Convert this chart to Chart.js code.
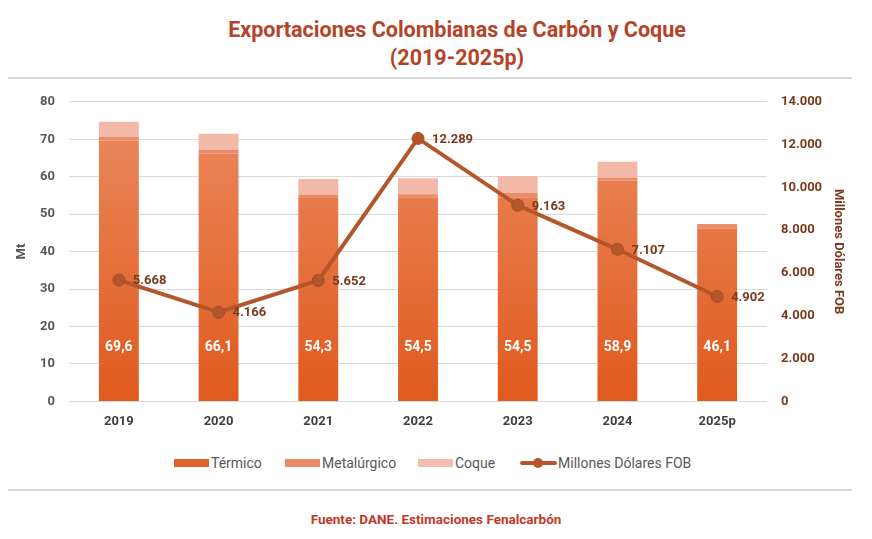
<!DOCTYPE html>
<html>
<head>
<meta charset="utf-8">
<script src="https://cdn.jsdelivr.net/npm/chart.js@4.4.1/dist/chart.umd.min.js"></script>
<style>
  html, body { margin: 0; padding: 0; background: #fff; }
  #wrap { position: relative; width: 872px; height: 539px; overflow: hidden; font-family: Roboto, "Liberation Sans", sans-serif; }
  #title { position: absolute; left: 21px; width: 872px; top: 16px; text-align: center; color: #B5432A; font-weight: 700; font-size: 21.5px; line-height: 28px; }
  .hr { position: absolute; left: 8px; width: 844px; height: 2px; background: #d9d9d9; }
  #cv { position: absolute; left: 0; top: 80px; }
  #legend { position: absolute; top: 454px; left: 0; width: 872px; height: 18px; font-size: 14px; color: #595959; }
  .li { position: absolute; top: 0; line-height: 18px; white-space: nowrap; }
  .sw { display: inline-block; width: 35px; height: 8px; vertical-align: middle; margin-right: 2px; position: relative; top: -1px; }
  #foot { position: absolute; left: 0; width: 872px; top: 511px; text-align: center; color: #C0392B; font-weight: 700; font-size: 13.5px; }
</style>
</head>
<body>
<div id="wrap">
  <div id="title">Exportaciones Colombianas de Carbón y Coque<br>(2019-2025p)</div>
  <div class="hr" style="top:77px"></div>
  <canvas id="cv" width="872" height="363"></canvas>
  <div id="legend">
    <div class="li" style="left:174px"><span class="sw" style="background:#E0622A"></span>Térmico</div>
    <div class="li" style="left:285px"><span class="sw" style="background:#E98A68"></span>Metalúrgico</div>
    <div class="li" style="left:418px"><span class="sw" style="background:#F2BDB0"></span>Coque</div>
    <div class="li" style="left:520px"><span style="display:inline-block;width:37px;height:18px;vertical-align:top;position:relative;margin-right:1px;">
      <span style="position:absolute;left:0;top:7px;width:37px;height:4px;background:#B5562A;border-radius:2px"></span>
      <span style="position:absolute;left:13px;top:4px;width:10px;height:10px;background:#B5562A;border-radius:50%"></span>
    </span>Millones Dólares FOB</div>
  </div>
  <div class="hr" style="top:489px"></div>
  <div id="foot">Fuente: DANE. Estimaciones Fenalcarbón</div>
</div>
<script>
const categories = ["2019", "2020", "2021", "2022", "2023", "2024", "2025p"];
const termico = [69.6, 66.1, 54.3, 54.5, 54.5, 58.9, 46.1];
const metalurgico = [1.0, 1.0, 0.8, 0.8, 1.2, 0.9, 1.3];
const coque = [4.1, 4.4, 4.3, 4.3, 4.5, 4.2, 0];
const fobMillones = [5668, 4166, 5652, 12289, 9163, 7107, 4902];
const leftTicks = [0, 10, 20, 30, 40, 50, 60, 70, 80];
const rightTicks = [0, 2000, 4000, 6000, 8000, 10000, 12000, 14000];

function fmtThousands(v) {
  return String(Math.round(v)).replace(/\B(?=(\d{3})+(?!\d))/g, ".");
}
function fmtDec(v) {
  return v.toFixed(1).replace(".", ",");
}

function vGrad(ctx, area, bottomColor, topColor) {
  if (!area) return bottomColor;
  const g = ctx.createLinearGradient(0, area.bottom, 0, area.top + 40);
  g.addColorStop(0, bottomColor);
  g.addColorStop(1, topColor);
  return g;
}

const labelPlugin = {
  id: 'labels',
  afterDatasetsDraw(chart) {
    const ctx = chart.ctx;
    const y = chart.scales.y;
    const meta0 = chart.getDatasetMeta(1);
    ctx.save();
    ctx.font = "700 14px Roboto, 'Liberation Sans', sans-serif";
    ctx.fillStyle = "#ffffff";
    ctx.textAlign = "center";
    ctx.textBaseline = "middle";
    meta0.data.forEach((el, i) => {
      ctx.fillText(fmtDec(termico[i]), el.x, y.getPixelForValue(0) - 54);
    });
    const meta = chart.getDatasetMeta(0);
    ctx.font = "700 13px Roboto, 'Liberation Sans', sans-serif";
    ctx.fillStyle = "#7A3A1E";
    ctx.textAlign = "left";
    meta.data.forEach((el, i) => {
      ctx.fillText(fmtThousands(fobMillones[i]), el.x + 14, el.y + 1);
    });
    ctx.restore();
  }
};

const barOpts = { barPercentage: 0.4, categoryPercentage: 1.0, borderWidth: 0, yAxisID: 'y', order: 2 };

new Chart(document.getElementById('cv'), {
  type: 'bar',
  data: {
    labels: categories,
    datasets: [
      {
        type: 'line', label: 'Millones Dólares FOB', data: fobMillones, yAxisID: 'y1', order: 0,
        borderColor: '#B5562A', backgroundColor: '#B5562A', borderWidth: 4,
        pointRadius: 6, pointHoverRadius: 6, pointBackgroundColor: '#B5562A', pointBorderColor: '#A64E26', pointBorderWidth: 1,
        tension: 0, fill: false
      },
      Object.assign({ label: 'Térmico', data: termico, stack: 's',
        backgroundColor: (c) => vGrad(c.chart.ctx, c.chart.chartArea, '#E05A1E', '#E98457') }, barOpts),
      Object.assign({ label: 'Metalúrgico', data: metalurgico, stack: 's', backgroundColor: '#EA8C68' }, barOpts),
      Object.assign({ label: 'Coque', data: coque, stack: 's',
        backgroundColor: '#F2B9A9' }, barOpts)
    ]
  },
  options: {
    responsive: false,
    animation: false,
    events: [],
    layout: { padding: { top: 12, bottom: 0, left: 0, right: 0 } },
    plugins: { legend: { display: false }, tooltip: { enabled: false }, title: { display: false } },
    scales: {
      x: {
        stacked: true,
        grid: { display: false, drawTicks: false },
        border: { display: false },
        ticks: { padding: 13, color: '#404040', font: { family: "Roboto, 'Liberation Sans', sans-serif", size: 13, weight: '700' } }
      },
      y: {
        stacked: true,
        position: 'left',
        min: 0, max: 80,
        afterBuildTicks(s) { s.ticks = leftTicks.map(v => ({ value: v })); },
        afterFit(s) { s.width = 69; },
        grid: { color: '#d9d9d9', lineWidth: 1, drawTicks: false },
        border: { display: false },
        ticks: { padding: 14, color: '#595959', font: { family: "Roboto, 'Liberation Sans', sans-serif", size: 13, weight: '700' } },
        title: { display: true, text: 'Mt', color: '#595959', padding: { top: 14, bottom: 0 }, font: { family: "Roboto, 'Liberation Sans', sans-serif", size: 13, weight: '700' } }
      },
      y1: {
        position: 'right',
        min: 0, max: 14000,
        afterBuildTicks(s) { s.ticks = rightTicks.map(v => ({ value: v })); },
        afterFit(s) { s.width = 105; },
        grid: { display: false, drawTicks: false },
        border: { display: false },
        ticks: { padding: 14, color: '#7A3A1E', callback: (v) => fmtThousands(v), font: { family: "Roboto, 'Liberation Sans', sans-serif", size: 13, weight: '700' } },
        title: { display: true, text: 'Millones Dólares FOB', color: '#7A3A1E', padding: { top: 26, bottom: 0 }, font: { family: "Roboto, 'Liberation Sans', sans-serif", size: 13, weight: '700' } }
      }
    }
  },
  plugins: [labelPlugin]
});
</script>
</body>
</html>
